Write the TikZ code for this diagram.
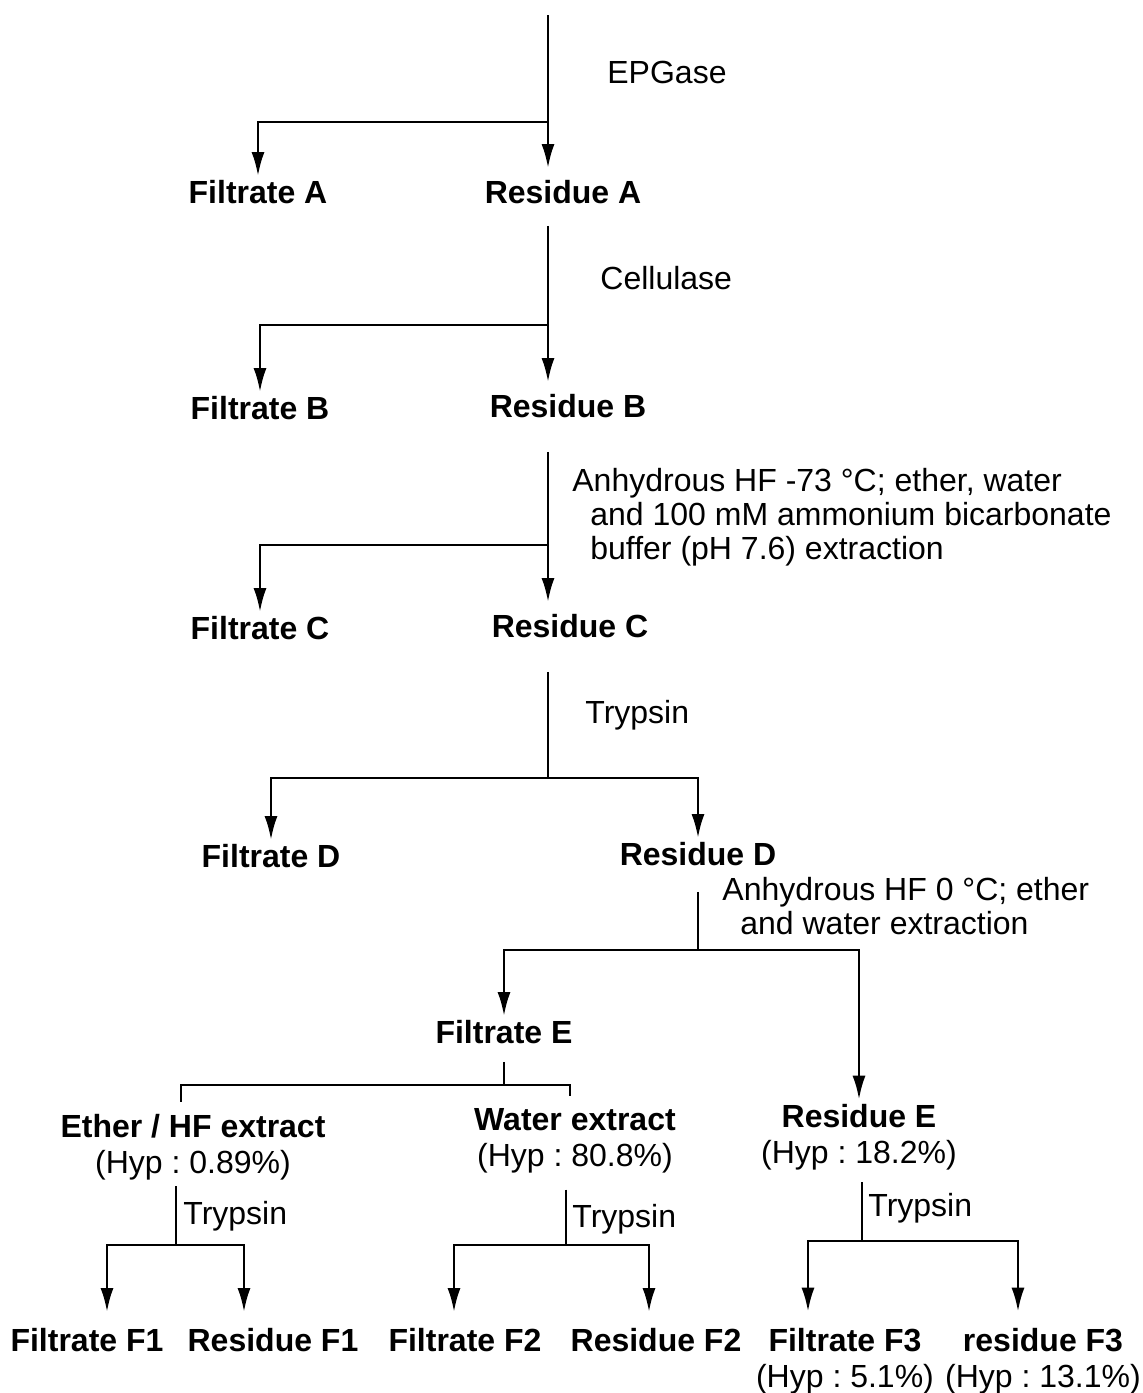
\documentclass[tikz,border=0pt]{standalone}
\usepackage{fontspec}
\setmainfont{Liberation Sans}
\usetikzlibrary{arrows.meta}
\usetikzlibrary{calc}

\newcommand{\txtsize}{\fontsize{16}{18}\selectfont\frenchspacing}

\begin{document}
\begin{tikzpicture}[
      x=0.5pt, y=-0.5pt,
      frac/.style={font=\txtsize\bfseries, text height=11.5pt, text depth=3pt, inner sep=2pt},
      frac2/.style={font=\txtsize, align=center, inner sep=2pt},
      lbl/.style={font=\txtsize, anchor=west, inner sep=0pt, text height=11.5pt, text depth=3pt},
      lbl2/.style={font=\fontsize{16}{17}\selectfont\frenchspacing, anchor=north west, align=left, inner sep=0pt},
      stem/.style={line width=1.2pt, shorten <=6pt},
      arr/.style={line width=1.4pt, -{Latex[length=12pt,width=6.5pt]}},
      fork/.style={line width=1.4pt}
    ]
    \useasboundingbox (0,0) rectangle (1142,1393);

    % EPGase
    \coordinate (top) at (548,15);
    \coordinate (jA) at (548,122);
    \node[frac] (filA) at (258,195) {Filtrate A};
    \node[frac] (resA) at (563,195) {Residue A};
    \node[lbl] (lEPG) at (607,75) {EPGase};
    \draw[stem, shorten <=0pt] (top) -- (jA);
    \draw[arr] (jA) -| (filA);
    \draw[arr, shorten >=4pt] (jA) -- (jA |- resA.north);

    % Cellulase
    \coordinate (jB) at (548,325);
    \node[frac] (filB) at (260,411) {Filtrate B};
    \node[frac] (resB) at (568,409) {Residue B};
    \node[lbl] (lCel) at (600,281) {Cellulase};
    \draw[stem] (resA.south -| jA) -- (jB);
    \draw[arr] (jB) -| (filB);
    \draw[arr, shorten >=4pt] (jB) -- (jB |- resB.north);

    % HF a -73 C
    \coordinate (jC) at (548,545);
    \node[frac] (filC) at (260,631) {Filtrate C};
    \node[frac] (resC) at (570,629) {Residue C};
    \node[lbl2] (lHF73) at (572,468) {Anhydrous HF -73 °C; ether, water\\
      \hspace*{9pt}and 100 mM ammonium bicarbonate\\
      \hspace*{9pt}buffer (pH 7.6) extraction};
    \draw[stem, shorten <=12pt] (resB.south -| jB) -- (jC);
    \draw[arr] (jC) -| (filC);
    \draw[arr, shorten >=4pt] (jC) -- (jC |- resC.north);

    % Trypsin
    \coordinate (jD) at (548,778);
    \node[frac] (filD) at (271,859) {Filtrate D};
    \node[frac] (resD) at (698,857) {Residue D};
    \node[lbl] (lTry) at (585,715) {Trypsin};
    \draw[stem, shorten <=12pt] (resC.south -| jC) -- (jD);
    \draw[arr] (jD) -| (filD);
    \draw[arr] (jD) -| (resD);

    % HF a 0 C
    \coordinate (jE) at (698,950);
    \node[frac] (filE) at (504,1035) {Filtrate E};
    \node[frac2] (resE) at (859,1137) {\textbf{Residue E}\\(Hyp : 18.2\%)};
    \node[lbl2] (lHF0) at (722,877) {Anhydrous HF 0 °C; ether\\
      \hspace*{9pt}and water extraction};
    \draw[stem, shorten <=8pt] (resD) -- (jE);
    \draw[arr] (jE) -| (filE);
    \draw[arr] (jE) -| (resE);

    % extratos do filtrado E
    \coordinate (jX) at (504,1085);
    \node[frac2] (ethX) at (193,1147) {\textbf{Ether / HF extract}\\(Hyp : 0.89\%)};
    \node[frac2] (watX) at (575,1141) {\textbf{Water extract}\\(Hyp : 80.8\%)};
    \draw[stem, shorten <=4pt] (filE) -- (jX);
    \draw[fork, shorten >=4pt] (jX) -| ([xshift=-6pt]ethX.north);
    \draw[fork, shorten >=4pt] (jX) -| ([xshift=-2.5pt]watX.north);

    % Trypsin nos tres
    \coordinate (jF1) at (176,1245);
    \coordinate (jF2) at (566,1245);
    \coordinate (jF3) at (862,1241);
    \node[frac] (filF1) at (87,1343) {Filtrate F1};
    \node[frac] (resF1) at (273,1343) {Residue F1};
    \node[frac] (filF2) at (465,1343) {Filtrate F2};
    \node[frac] (resF2) at (656,1343) {Residue F2};
    \node[frac2] (filF3) at (845,1361) {\textbf{Filtrate F3}\\(Hyp : 5.1\%)};
    \node[frac2] (resF3) at (1043,1361) {\textbf{residue F3}\\(Hyp : 13.1\%)};
    \node[lbl] (lTry1) at (183,1216) {Trypsin};
    \node[lbl] (lTry2) at (572,1219) {Trypsin};
    \node[lbl] (lTry3) at (868,1208) {Trypsin};
    \draw[stem, shorten <=1pt] (ethX.south -| jF1) -- (jF1);
    \draw[stem] (watX.south -| jF2) -- (jF2);
    \draw[stem, shorten <=4pt] (resE.south -| jF3) -- (jF3);
    \draw[arr, shorten >=6pt] (jF1) -| ([xshift=10pt]filF1.north);
    \draw[arr, shorten >=6pt] (jF1) -| ([xshift=-14.5pt]resF1.north);
    \draw[arr, shorten >=6pt] (jF2) -| ([xshift=-5.5pt]filF2.north);
    \draw[arr, shorten >=6pt] (jF2) -| ([xshift=-3.5pt]resF2.north);
    \draw[arr, shorten >=6pt] (jF3) -| ([xshift=-18.5pt]filF3.north);
    \draw[arr, shorten >=6pt] (jF3) -| ([xshift=-12.5pt]resF3.north);
  \end{tikzpicture}
\end{document}
